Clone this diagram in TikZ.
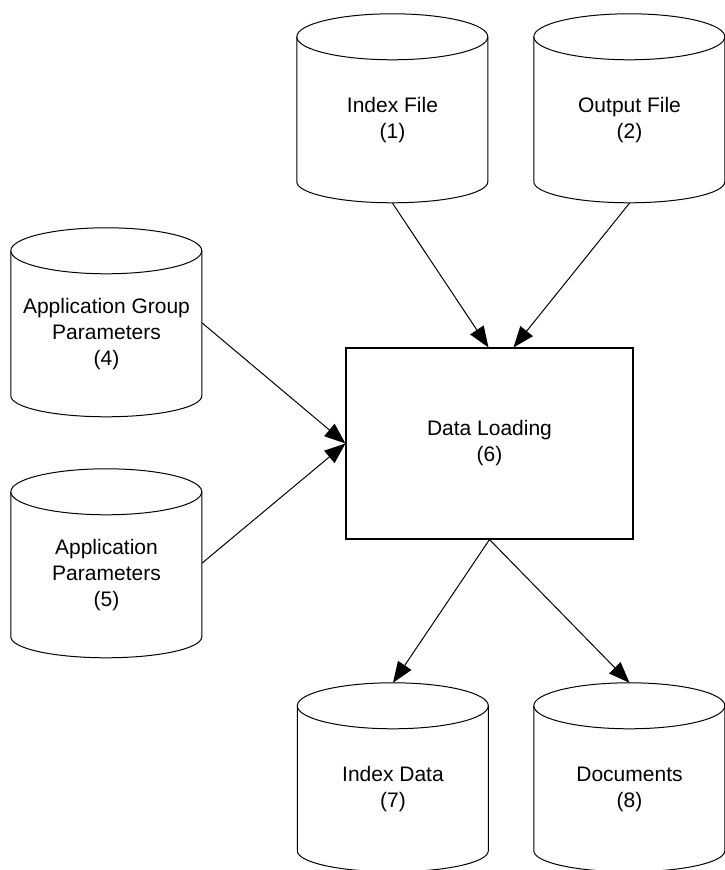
\documentclass[tikz,border=0pt]{standalone}
\usepackage{fontspec}
\setmainfont{Liberation Sans}
\usetikzlibrary{arrows.meta}
\tikzset{
  every picture/.style={x=1pt,y=1pt},
  db/.style={minimum width=191pt, minimum height=166pt, inner sep=0pt, align=center,
    font=\fontsize{21}{26}\selectfont},
  proc/.style={draw, line width=1.1pt, minimum width=287pt, minimum height=191pt, inner sep=0pt,
    align=center, font=\fontsize{21}{26}\selectfont},
  cyl/.style={draw, line width=1pt},
  flow/.style={draw, line width=1pt, -{Triangle[length=21pt,width=16pt]}}
}
\begin{document}
\begin{tikzpicture}
\useasboundingbox (0,0) rectangle (725,870);
% nodes (centres in px, y up)
\node[db] (f1) at (392.5,750) {Index File\\(1)};
\node[db] (f2) at (629.5,750) {Output File\\(2)};
\node[db] (g4) at (106.5,536) {Application Group\\Parameters\\(4)};
\node[db] (p5) at (106.5,295) {Application\\Parameters\\(5)};
\node[db] (d7) at (393,81) {Index Data\\(7)};
\node[db] (d8) at (629.5,81) {Documents\\(8)};
\node[proc] (load) at (489.5,426.5) {Data Loading\\(6)};
% cylinder outlines around the database nodes
\foreach \n in {f1,f2,g4,p5,d7,d8} {
  \draw[cyl] (\n.north west) arc[start angle=180, end angle=-180, x radius=95.5pt, y radius=23pt];
  \draw[cyl] (\n.north west) -- ++(0,-145)
     arc[start angle=180, end angle=360, x radius=95.5pt, y radius=21pt] -- ++(0,145);
}
% connectors
\draw[flow] (f1.south) -- ([xshift=-1pt]load.north);
\draw[flow] (f2.south) -- ([xshift=24pt]load.north);
\draw[flow] ([yshift=11pt]g4.east) -- (load.west);
\draw[flow] ([yshift=12pt]p5.east) -- (load.west);
\draw[flow] (load.south) -- ([yshift=23pt]d7.north);
\draw[flow] (load.south) -- ([yshift=23pt]d8.north);
\end{tikzpicture}
\end{document}
